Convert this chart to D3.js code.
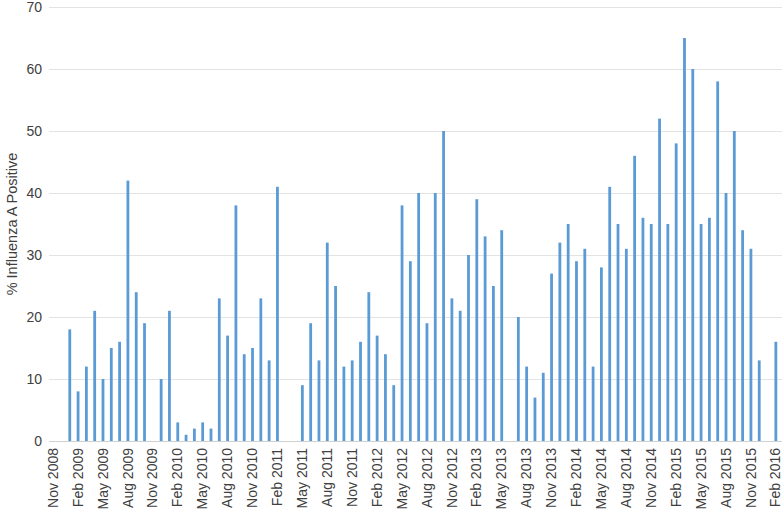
<!DOCTYPE html>
<html lang="en">
  <head>
    <meta charset="UTF-8" />
    <title>% Influenza A Positive</title>
    <style>
      body {
        margin: 0;
        background: #fff;
      }
      svg text {
        font-family: "Liberation Sans", Arial, sans-serif;
        fill: #404040;
      }
      .bar {
        fill: #5b9bd5;
      }
    </style>
  </head>
  <body>
    <svg width="784" height="514"></svg>
    <script src="https://d3js.org/d3.v7.min.js"></script>
    <script>
      // months Nov 2008 .. Feb 2016, null = no data
      const monthNames = ["Jan", "Feb", "Mar", "Apr", "May", "Jun", "Jul", "Aug", "Sep", "Oct", "Nov", "Dec"];
      const months = [];
      for (let i = 0; i < 88; i++) {
        let m = (10 + i) % 12;
        let yr = 2008 + Math.floor((10 + i) / 12);
        months.push(monthNames[m] + " " + yr);
      }
      const values = [
        null, null, 18, 8, 12, 21, 10, 15, 16, 42, 24, 19,       // Nov08 - Oct09
        null, 10, 21, 3, 1, 2, 3, 2, 23, 17, 38, 14,             // Nov09 - Oct10
        15, 23, 13, 41, null, null, 9, 19, 13, 32, 25, 12,       // Nov10 - Oct11
        13, 16, 24, 17, 14, 9, 38, 29, 40, 19, 40, 50,           // Nov11 - Oct12
        23, 21, 30, 39, 33, 25, 34, null, 20, 12, 7, 11,         // Nov12 - Oct13
        27, 32, 35, 29, 31, 12, 28, 41, 35, 31, 46, 36,          // Nov13 - Oct14
        35, 52, 35, 48, 65, 60, 35, 36, 58, 40, 50, 34,          // Nov14 - Oct15
        31, 13, null, 16                                         // Nov15 - Feb16
      ];
      const yTicks = [0, 10, 20, 30, 40, 50, 60, 70];
      const tickLabels = months.filter((d, i) => i % 3 === 0);

      const data = months.map((m, i) => ({ month: m, value: values[i] }));

      let svg = d3.select("svg"),
        margin = { top: 7, right: 4, bottom: 73, left: 49 },
        width = +svg.attr("width") - margin.left - margin.right,
        height = +svg.attr("height") - margin.top - margin.bottom;

      let x = d3.scaleBand().domain(months).range([0, width]),
        y = d3.scaleLinear().domain([0, 70]).range([height, 0]);

      let g = svg
        .append("g")
        .attr("transform", "translate(" + margin.left + "," + margin.top + ")");

      // gridlines
      g.append("g")
        .selectAll("line")
        .data(yTicks)
        .enter()
        .append("line")
        .attr("x1", 0)
        .attr("x2", width + 2)
        .attr("y1", (d) => y(d) + 0.5)
        .attr("y2", (d) => y(d) + 0.5)
        .attr("stroke", (d) => (d === 0 ? "#d0d0d0" : "#e3e3e3"))
        .attr("stroke-width", 1.2);

      // y axis labels
      g.append("g")
        .call(d3.axisLeft(y).tickValues(yTicks).tickSize(0).tickPadding(7))
        .call((a) => a.select(".domain").remove())
        .selectAll("text")
        .style("font-size", "14px");

      // x axis labels
      g.append("g")
        .attr("transform", "translate(0," + height + ")")
        .call(d3.axisBottom(x).tickValues(tickLabels).tickSize(0))
        .call((a) => a.select(".domain").remove())
        .selectAll("text")
        .style("font-size", "14px")
        .attr("text-anchor", "end")
        .attr("dy", "0.33em")
        .attr("transform", "rotate(-90)")
        .attr("x", -7)
        .attr("y", 0);

      // bars
      const bw = 2.8;
      g.selectAll(".bar")
        .data(data.filter((d) => d.value !== null))
        .enter()
        .append("rect")
        .attr("class", "bar")
        .attr("x", (d) => x(d.month) + x.bandwidth() / 2 - bw / 2)
        .attr("y", (d) => y(d.value))
        .attr("width", bw)
        .attr("height", (d) => height - y(d.value));

      // y axis title
      svg
        .append("text")
        .attr("transform", "translate(17," + (margin.top + height / 2) + ") rotate(-90)")
        .attr("text-anchor", "middle")
        .style("font-size", "14.5px")
        .text("% Influenza A Positive");
    </script>
  </body>
</html>
